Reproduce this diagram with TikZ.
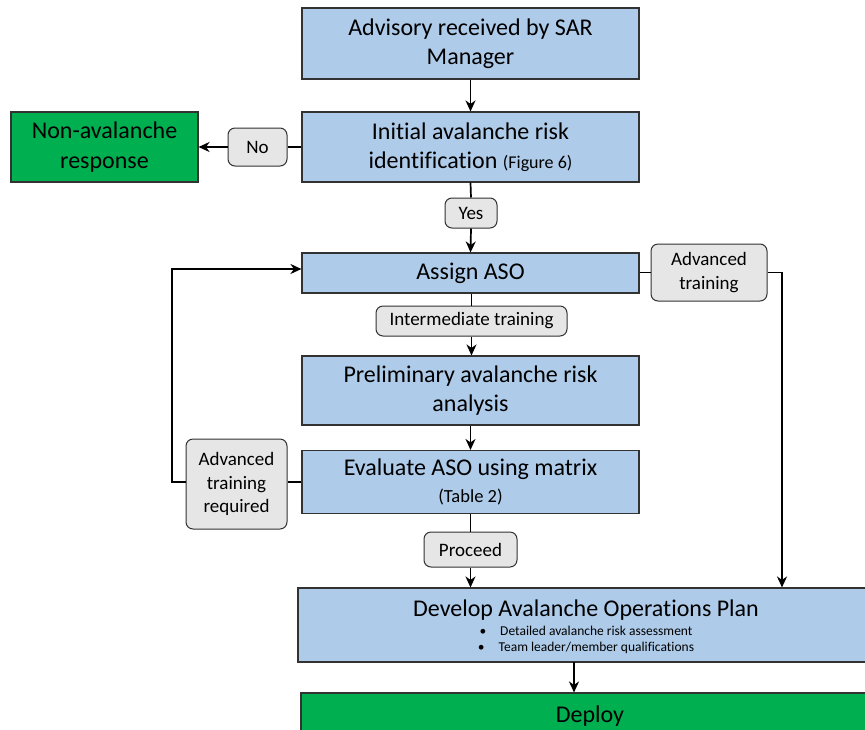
\documentclass[tikz,border=0pt]{standalone}
\usepackage{fontspec}
\setmainfont[Ligatures=NoCommon]{Carlito}
\usetikzlibrary{arrows.meta,calc}
\definecolor{boxblue}{RGB}{174,203,233}
\definecolor{boxgreen}{RGB}{0,176,80}
\definecolor{lblgray}{RGB}{230,230,230}
\definecolor{edgegray}{RGB}{50,50,50}
\begin{document}
\begin{tikzpicture}[x=1pt,y=-1pt,
  bluebox/.style={draw=edgegray, line width=1.1pt, fill=boxblue, inner sep=0pt, align=center, font=\fontsize{24}{29.5}\selectfont},
  greenbox/.style={bluebox, fill=boxgreen},
  lbl/.style={draw=edgegray, line width=1pt, fill=lblgray, rounded corners=7pt, inner sep=0pt, align=center, font=\fontsize{19}{23.5}\selectfont},
  conn/.style={line width=1.7pt, black},
  arr/.style={conn, -{Stealth[length=11pt,width=10pt,inset=3.5pt]}},
  bullettxt/.style={font=\fontsize{13.5}{16}\selectfont, inner sep=0pt, anchor=base}]
\useasboundingbox (0,0) rectangle (865,729);
\clip (0,0) rectangle (865,729);
\fill[white] (0,0) rectangle (865,729);

% boxes
\node[bluebox, minimum width=337pt, minimum height=71pt] (adv) at (470.5,43.5) {Advisory received by SAR\\Manager};
\node[bluebox, minimum width=337pt, minimum height=70pt] (init) at (470.5,147) {Initial avalanche risk\\identification {\fontsize{18}{22}\selectfont (Figure 6)}};
\node[greenbox, minimum width=187pt, minimum height=70pt] (non) at (104.5,147) {Non-avalanche\\response};
\node[bluebox, minimum width=337pt, minimum height=40pt] (assign) at (470.5,273) {Assign ASO};
\node[bluebox, minimum width=337pt, minimum height=69pt] (prelim) at (470.5,390.5) {Preliminary avalanche risk\\analysis};
\node[bluebox, minimum width=337pt, minimum height=63pt] (eval) at (470.5,482) {Evaluate ASO using matrix\\[-3pt]{\fontsize{18.5}{22}\selectfont (Table 2)}};
\node[bluebox, minimum width=576pt, minimum height=74pt] (dev) at (586,625) {};
\node[bullettxt, font=\fontsize{24}{29.5}\selectfont] (devt) at (586,616) {Develop Avalanche Operations Plan};
\node[bullettxt] (devb1) at (586,635) {\textbullet\hspace{14pt}Detailed avalanche risk assessment};
\node[bullettxt] (devb2) at (586,651.5) {\textbullet\hspace{14pt}Team leader/member qualifications};
\node[greenbox, minimum width=578pt, minimum height=46pt] (deploy) at (590,716) {Deploy};

% labels
\node[lbl, minimum width=59pt, minimum height=38pt] (no) at (257.5,147) {No};
\node[lbl, minimum width=52pt, minimum height=30pt] (yes) at (471,213) {Yes};
\node[lbl, minimum width=116pt, minimum height=57pt] (advt) at (709,272.5) {Advanced\\training};
\node[lbl, minimum width=191pt, minimum height=30pt] (inter) at (471.5,321) {Intermediate training};
\node[lbl, minimum width=101pt, minimum height=90pt] (advreq) at (236.5,484) {Advanced\\training\\required};
\node[lbl, minimum width=93pt, minimum height=35pt] (proceed) at (470.5,549.5) {Proceed};

% connectors
\coordinate (rt) at (782,272.5);
\coordinate (lt) at (172,482);
\draw[arr] (adv.south) -- (init.north);
\draw[conn] (init.west) -- (no.east);
\draw[arr] (no.west) -- (non.east);
\draw[conn] (init.south) -- (yes.north);
\draw[arr] (yes.south) -- (assign.north);
\draw[conn] (assign.east |- advt.west) -- (advt.west);
\draw[arr] (advt.east) -- (rt) -- (rt |- dev.north);
\draw[conn] (assign.south -| inter.north) -- (inter.north);
\draw[arr] (inter.south) -- (inter.south |- prelim.north);
\draw[arr] (prelim.south) -- (eval.north);
\draw[conn] (eval.west) -- (eval.west -| advreq.east);
\draw[arr] (advreq.west |- lt) -- (lt) |- ([yshift=4pt]assign.west);
\draw[conn] (eval.south) -- (proceed.north);
\draw[arr] (proceed.south) -- (proceed.south |- dev.north);
\coordinate (dd) at (574,662);
\draw[arr] (dd) -- (dd |- deploy.north);
\end{tikzpicture}
\end{document}
